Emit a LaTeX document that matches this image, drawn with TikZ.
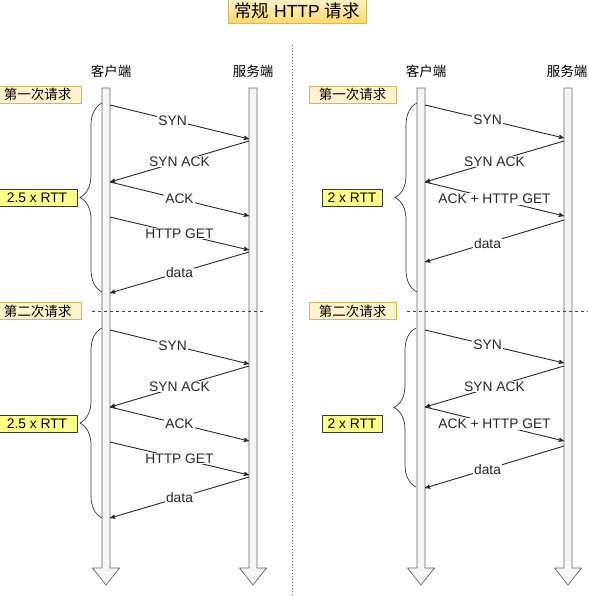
\documentclass[tikz,border=0pt]{standalone}
\usepackage{fontspec}
\setmainfont{Liberation Sans}
\newfontfamily\cjk{Noto Sans CJK SC}
\usetikzlibrary{arrows,decorations.pathreplacing}

\definecolor{notefill}{HTML}{FFF2CC}
\definecolor{notedraw}{HTML}{D6B656}
\definecolor{titlefill}{HTML}{FFD966}
\definecolor{rttfill}{HTML}{FFFF88}
\definecolor{rttdraw}{HTML}{36393D}
\definecolor{lifefill}{HTML}{F5F5F5}
\definecolor{lifedraw}{HTML}{666666}

\begin{document}
\begin{tikzpicture}[x=1pt,y=-1pt,>=stealth',
  every node/.style={font=\fontsize{13.8}{15}\selectfont},
  titlebox/.style={draw=notedraw,top color=notefill,bottom color=titlefill,minimum width=138pt,minimum height=24pt,inner sep=0pt,font=\fontsize{17.5}{19}\selectfont},
  reqbox/.style={draw=notedraw,fill=notefill,minimum width=87pt,minimum height=17pt,inner sep=0pt,font=\cjk\fontsize{13.5}{15}\selectfont},
  rttbox/.style={draw=rttdraw,fill=rttfill,minimum height=17pt,inner sep=0pt},
  side/.style={font=\cjk\fontsize{13.5}{15}\selectfont},
  msg/.style={fill=white,inner sep=1pt},
  lifeline/.style={draw=lifedraw,fill=lifefill,line width=0.7pt},
  rtt brace/.style={draw=black!80,line width=0.7pt,decorate,decoration={brace,amplitude=22pt}}]

\useasboundingbox (0,0) rectangle (588,596);

\node[titlebox] (title) at (297,11) {{\cjk 常规} HTTP {\cjk 请求}};

% divider
\draw[dotted,line width=1pt,black!60] (292,45) -- (292,596);

% lifelines
\foreach \c in {106,253,421,568}
  \draw[lifeline] (\c-4,88) -- (\c+4,88) -- (\c+4,568) -- (\c+13.5,568)
    -- (\c,585) -- (\c-13.5,568) -- (\c-4,568) -- cycle;

\node[side] (cl1) at (111,71) {客户端};
\node[side] (sv1) at (253,71) {服务端};
\node[side] (cl2) at (426,71) {客户端};
\node[side] (sv2) at (567,71) {服务端};

\node[reqbox] (req1a) at (37.5,94.5)  {第一次请求};
\node[reqbox] (req2a) at (37.5,311)   {第二次请求};
\node[reqbox] (req1b) at (352.5,94.5) {第一次请求};
\node[reqbox] (req2b) at (352.5,311)  {第二次请求};

\draw[dashed,black!75,line width=0.7pt] (92,311) -- (265,311);
\draw[dashed,black!75,line width=0.7pt] (407,311) -- (588,311);

\node[rttbox,minimum width=80pt] (rtt1a) at (37,197.5) {2.5 x RTT};
\node[rttbox,minimum width=80pt] (rtt2a) at (37,423.5) {2.5 x RTT};
\node[rttbox,minimum width=60pt] (rtt1b) at (352,198)  {2 x RTT};
\node[rttbox,minimum width=60pt] (rtt2b) at (352,423.5) {2 x RTT};

\draw[rtt brace] (102,292) -- (102,103);
\draw[rtt brace] (102,518) -- (102,328);
\draw[rtt brace] (417,292) -- (417,103);
\draw[rtt brace] (416,487) -- (416,328);

% left, first request
\coordinate (a1) at (110,105);
\coordinate (a2) at (249,139);
\coordinate (a3) at (249,141);
\coordinate (a4) at (110,182);
\coordinate (a5) at (249,216);
\coordinate (a6) at (110,217);
\coordinate (a7) at (249,250);
\coordinate (a8) at (249,252);
\coordinate (a9) at (110,293);

% left, second request
\coordinate (b1) at (110,330);
\coordinate (b2) at (249,364);
\coordinate (b3) at (249,366);
\coordinate (b4) at (110,407);
\coordinate (b5) at (249,441);
\coordinate (b6) at (110,442);
\coordinate (b7) at (249,475);
\coordinate (b8) at (249,477);
\coordinate (b9) at (110,518);

% right, first request
\coordinate (c1) at (425,105);
\coordinate (c2) at (564,138);
\coordinate (c3) at (564,141);
\coordinate (c4) at (425,182);
\coordinate (c5) at (564,216);
\coordinate (c6) at (564,220);
\coordinate (c7) at (425,262);

% right, second request
\coordinate (d1) at (425,330);
\coordinate (d2) at (564,363);
\coordinate (d3) at (564,366);
\coordinate (d4) at (425,407);
\coordinate (d5) at (564,441);
\coordinate (d6) at (564,446);
\coordinate (d7) at (425,488);

\path[->,line width=0.9pt,black!85] (a1) edge node[msg,pos=.45]{SYN} (a2)
          (a3) edge node[msg]{SYN ACK} (a4)
          (a4) edge node[msg]{ACK} (a5)
          (a6) edge node[msg]{HTTP GET} (a7)
          (a8) edge node[msg]{data} (a9)

          (b1) edge node[msg,pos=.45]{SYN} (b2)
          (b3) edge node[msg]{SYN ACK} (b4)
          (b4) edge node[msg]{ACK} (b5)
          (b6) edge node[msg]{HTTP GET} (b7)
          (b8) edge node[msg]{data} (b9)

          (c1) edge node[msg,pos=.45]{SYN} (c2)
          (c3) edge node[msg]{SYN ACK} (c4)
          (c4) edge node[msg]{ACK + HTTP GET} (c5)
          (c6) edge node[msg,pos=.55]{data} (c7)

          (d1) edge node[msg,pos=.45]{SYN} (d2)
          (d3) edge node[msg]{SYN ACK} (d4)
          (d4) edge node[msg]{ACK + HTTP GET} (d5)
          (d6) edge node[msg,pos=.55]{data} (d7);

\end{tikzpicture}
\end{document}
